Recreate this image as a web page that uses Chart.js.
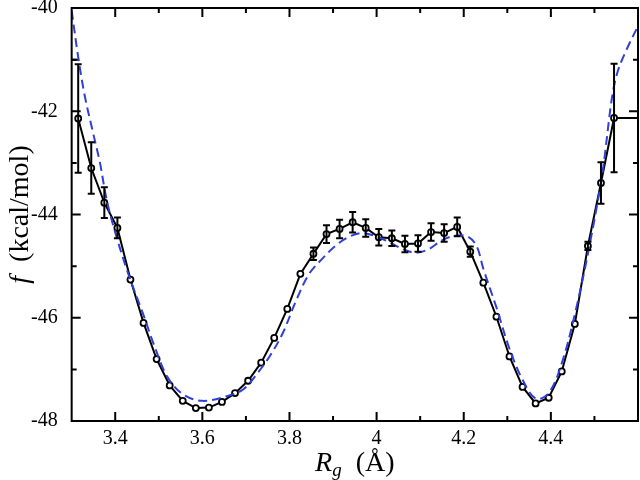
<!DOCTYPE html>
<html>
<head>
<meta charset="utf-8">
<script src="https://cdn.jsdelivr.net/npm/chart.js@4.4.0/dist/chart.umd.min.js"></script>
<style>
html, body { margin: 0; padding: 0; background: #fff; }
</style>
</head>
<body>
<canvas id="mycanvas" width="640" height="480"></canvas>
<script>
// simulation points (black, with error bars)
var rg = [3.315, 3.345, 3.375, 3.405, 3.435, 3.465, 3.495, 3.525, 3.555, 3.585,
          3.615, 3.645, 3.675, 3.705, 3.735, 3.765, 3.795, 3.825, 3.855, 3.885,
          3.915, 3.945, 3.975, 4.005, 4.035, 4.065, 4.095, 4.125, 4.155, 4.185,
          4.215, 4.245, 4.275, 4.305, 4.335, 4.365, 4.395, 4.425, 4.455, 4.485,
          4.515, 4.545];
var freeEnergy = [-42.14, -43.10, -43.77, -44.26, -45.26, -46.10, -46.80, -47.31, -47.61, -47.75,
                  -47.74, -47.63, -47.46, -47.22, -46.87, -46.39, -45.83, -45.15, -44.76, -44.38,
                  -44.28, -44.15, -44.26, -44.44, -44.46, -44.57, -44.56, -44.34, -44.36, -44.24,
                  -44.72, -45.32, -45.98, -46.75, -47.34, -47.66, -47.55, -47.04, -46.12, -44.61,
                  -43.39, -42.13];
var errBar = [1.05, 0.50, 0.30, 0.20, 0.06, 0.03, 0.03, 0.03, 0.03, 0.03,
              0.03, 0.03, 0.03, 0.03, 0.03, 0.03, 0.03, 0.05, 0.12, 0.17,
              0.18, 0.20, 0.17, 0.16, 0.15, 0.16, 0.16, 0.17, 0.17, 0.18,
              0.10, 0.05, 0.03, 0.03, 0.03, 0.03, 0.03, 0.03, 0.03, 0.08,
              0.40, 1.05];
// edge pieces of the black curve
var leftStubX = [3.30, 3.315];
var leftStubY = [-41.0, -41.0];
var rightStubX = [4.545, 4.60];
var rightStubY = [-42.13, -42.13];

// dashed blue curve
var fitRg = [3.300, 3.315, 3.330, 3.350, 3.365, 3.380, 3.400, 3.430, 3.465, 3.490,
             3.520, 3.555, 3.600, 3.660, 3.695, 3.725, 3.755, 3.785, 3.815, 3.845,
             3.875, 3.905, 3.935, 3.965, 3.995, 4.030, 4.060, 4.090, 4.120, 4.150,
             4.180, 4.210, 4.230, 4.245, 4.275, 4.305, 4.335, 4.366, 4.396, 4.427,
             4.457, 4.488, 4.518, 4.540, 4.553, 4.573, 4.600];
var fitF = [-40.05, -40.95, -41.70, -42.45, -43.00, -43.70, -44.35, -45.15, -45.95, -46.55,
            -47.15, -47.48, -47.61, -47.51, -47.38, -47.09, -46.74, -46.29, -45.67, -45.15,
            -44.86, -44.61, -44.44, -44.36, -44.41, -44.54, -44.67, -44.74, -44.67, -44.50,
            -44.41, -44.43, -44.62, -45.05, -45.80, -46.60, -47.20, -47.57, -47.45, -46.83,
            -45.86, -44.63, -43.21, -41.75, -41.24, -40.82, -40.35];

var xTicks = [3.4, 3.6, 3.8, 4, 4.2, 4.4];
var yTicks = [-48, -46, -44, -42, -40];
var xMin = 3.3, xMax = 4.6, yMin = -48, yMax = -40;

function toPoints(xs, ys) {
	var out = [];
	for (var i in xs) {
		out.push({x: xs[i], y: ys[i]});
	}
	return out;
}

var serif = "'Liberation Serif', 'DejaVu Serif', serif";

// error bars, inner tick marks, frame and axis titles
var decorations = {
	id: 'decorations',
	afterDatasetsDraw: function(chart) {
		var ctx = chart.ctx;
		var xs = chart.scales.x, ys = chart.scales.y;
		ctx.save();
		ctx.strokeStyle = '#000';
		ctx.lineWidth = 2;
		for (var i = 0; i < rg.length; i++) {
			var px = xs.getPixelForValue(rg[i]);
			var top = ys.getPixelForValue(freeEnergy[i] + errBar[i]);
			var bot = ys.getPixelForValue(freeEnergy[i] - errBar[i]);
			if (bot - top < 8) continue;
			ctx.beginPath();
			ctx.moveTo(px, top); ctx.lineTo(px, bot);
			ctx.moveTo(px - 3.5, top); ctx.lineTo(px + 3.5, top);
			ctx.moveTo(px - 3.5, bot); ctx.lineTo(px + 3.5, bot);
			ctx.stroke();
		}
		ctx.restore();
	},
	afterDraw: function(chart) {
		var ctx = chart.ctx;
		var ca = chart.chartArea;
		var xs = chart.scales.x, ys = chart.scales.y;
		ctx.save();
		ctx.strokeStyle = '#000';
		ctx.lineWidth = 2;
		ctx.beginPath();
		function xTick(v, len) {
			var p = xs.getPixelForValue(v);
			ctx.moveTo(p, ca.bottom); ctx.lineTo(p, ca.bottom - len);
			ctx.moveTo(p, ca.top); ctx.lineTo(p, ca.top + len);
		}
		function yTick(v, len) {
			var p = ys.getPixelForValue(v);
			ctx.moveTo(ca.left, p); ctx.lineTo(ca.left + len, p);
			ctx.moveTo(ca.right, p); ctx.lineTo(ca.right - len, p);
		}
		var xStep = xTicks[1] - xTicks[0];
		xTicks.forEach(function(v) {
			xTick(v, 9);
			if (v + xStep / 2 < xMax) xTick(v + xStep / 2, 5);
		});
		var yStep = yTicks[1] - yTicks[0];
		yTicks.forEach(function(v) {
			yTick(v, 9);
			if (v + yStep / 2 < yMax) yTick(v + yStep / 2, 5);
		});
		ctx.stroke();
		ctx.strokeRect(ca.left, ca.top, ca.right - ca.left, ca.bottom - ca.top);

		// x title: R_g (Å)
		ctx.fillStyle = '#000';
		ctx.textBaseline = 'alphabetic';
		var big = "28px " + serif, sub = "19px " + serif;
		ctx.font = "italic " + big;
		var wR = ctx.measureText('R').width;
		ctx.font = "italic " + sub;
		var wg = ctx.measureText('g').width;
		ctx.font = big;
		var wRest = ctx.measureText('  (Å)').width;
		var total = wR + wg + wRest;
		var x0 = (ca.left + ca.right) / 2 - total / 2;
		var base = 471;
		ctx.font = "italic " + big;
		ctx.fillText('R', x0, base);
		ctx.font = "italic " + sub;
		ctx.fillText('g', x0 + wR, base + 5);
		ctx.font = big;
		ctx.fillText('  (Å)', x0 + wR + wg, base);

		// y title: f (kcal/mol)
		ctx.save();
		ctx.translate(28, (ca.top + ca.bottom) / 2);
		ctx.rotate(-Math.PI / 2);
		ctx.font = "italic " + big;
		var wf = ctx.measureText('f').width;
		ctx.font = big;
		var wy = ctx.measureText('  (kcal/mol)').width;
		var y0 = -(wf + wy) / 2;
		ctx.font = "italic " + big;
		ctx.fillText('f', y0, 0);
		ctx.font = big;
		ctx.fillText('  (kcal/mol)', y0 + wf, 0);
		ctx.restore();
		ctx.restore();
	}
};

var ctx = document.getElementById('mycanvas');
var myChart = new Chart(ctx, {
	type: 'line',
	data: {
		datasets: [{
			label: 'fit',
			data: toPoints(fitRg, fitF),
			borderColor: '#2f3fd8',
			borderWidth: 2,
			borderDash: [9, 5],
			pointRadius: 0,
			tension: 0.35,
			fill: false
		}, {
			label: 'simulation',
			data: toPoints(rg, freeEnergy),
			borderColor: '#000',
			borderWidth: 2,
			pointRadius: 3,
			pointBorderWidth: 1.8,
			pointBackgroundColor: '#fff',
			pointBorderColor: '#000',
			tension: 0,
			fill: false
		}, {
			label: 'left',
			data: toPoints(leftStubX, leftStubY),
			borderColor: '#000',
			borderWidth: 2,
			pointRadius: 0,
			fill: false
		}, {
			label: 'right',
			data: toPoints(rightStubX, rightStubY),
			borderColor: '#000',
			borderWidth: 2,
			pointRadius: 0,
			fill: false
		}]
	},
	options: {
		responsive: false,
		animation: false,
		devicePixelRatio: 1,
		layout: { autoPadding: false, padding: { left: 17, right: 2, top: 0, bottom: 23 } },
		plugins: { legend: { display: false }, tooltip: { enabled: false } },
		scales: {
			x: {
				type: 'linear',
				min: xMin, max: xMax,
				afterBuildTicks: function(axis) {
					axis.ticks = xTicks.map(function(v) { return {value: v}; });
				},
				grid: { display: false, drawTicks: false },
				border: { display: false },
				ticks: {
					color: '#000',
					padding: 6,
					maxRotation: 0,
					font: { family: serif, size: 20 },
					callback: function(v) { return String(v); }
				}
			},
			y: {
				type: 'linear',
				min: yMin, max: yMax,
				afterBuildTicks: function(axis) {
					axis.ticks = yTicks.map(function(v) { return {value: v}; });
				},
				afterFit: function(axis) {
					axis.paddingTop = 8;
				},
				grid: { display: false, drawTicks: false },
				border: { display: false },
				ticks: {
					color: '#000',
					padding: 14,
					font: { family: serif, size: 20 },
					callback: function(v) { return String(v); }
				}
			}
		}
	},
	plugins: [decorations]
});
</script>
</body>
</html>
